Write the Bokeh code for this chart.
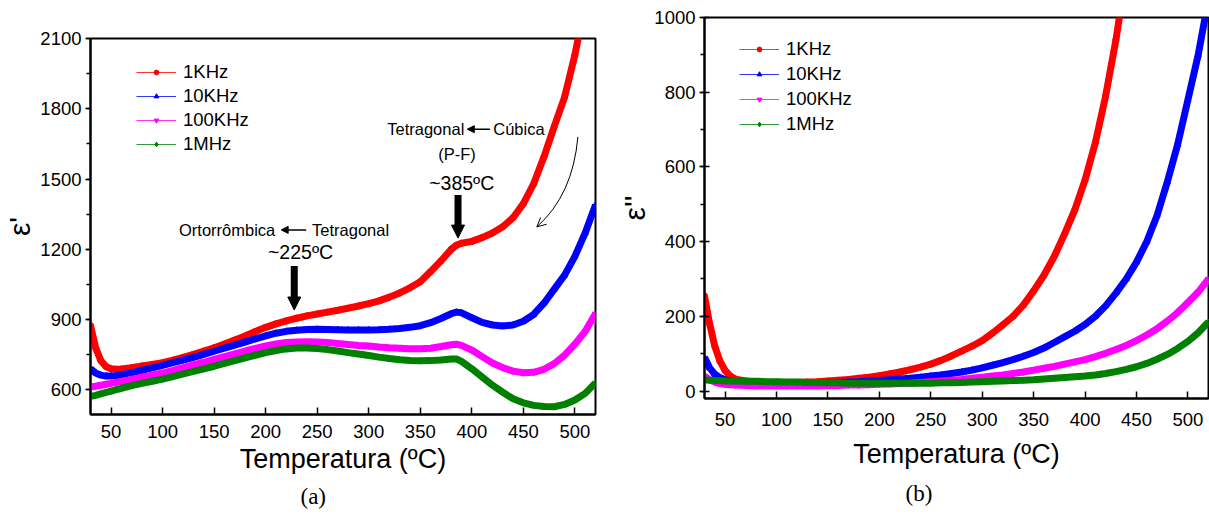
from bokeh.plotting import figure
from bokeh.layouts import row
from bokeh.models import (Range1d, SingleIntervalTicker, Label, Arrow, NormalHead,
                          OpenHead, Legend, LegendItem, Title)
from bokeh.embed import file_html
from bokeh.resources import INLINE

# ---------------- data: panel (a) real permittivity ----------------
T_a = [30, 35, 40, 45, 50, 55, 60, 70, 80, 90, 100, 110, 120, 130, 140, 150, 160, 170,
       180, 190, 200, 210, 220, 230, 240, 250, 260, 270, 280, 290, 300, 310, 320, 330,
       340, 350, 360, 370, 380, 385, 390, 400, 410, 420, 430, 440, 450, 460, 470, 480,
       490, 500, 510, 520]
eps1_1k = [875, 780, 725, 700, 690, 688, 689, 695, 702, 709, 716, 727, 739, 752, 766, 780,
           796, 813, 830, 849, 867, 882, 895, 906, 916, 924, 932, 940, 949, 958, 968, 980,
           996, 1014, 1036, 1062, 1105, 1150, 1200, 1217, 1226, 1234, 1250, 1270, 1296,
           1335, 1395, 1480, 1595, 1725, 1850, 2030, 2250, 2500]
eps1_10k = [690, 672, 663, 659, 659, 661, 665, 674, 684, 694, 705, 716, 727, 739, 752, 765,
            778, 791, 804, 818, 831, 842, 850, 855, 858, 859, 858, 857, 856, 856, 856, 857,
            859, 862, 867, 874, 887, 905, 925, 932, 929, 908, 888, 877, 873, 877, 893, 922,
            970, 1030, 1090, 1170, 1270, 1390]
eps1_100k = [612, 616, 620, 624, 628, 632, 636, 645, 654, 663, 672, 683, 695, 707, 718, 730,
             742, 754, 766, 777, 788, 796, 802, 805, 806, 805, 802, 798, 794, 790, 787, 783,
             780, 778, 776, 776, 778, 785, 793, 795, 790, 770, 742, 715, 695, 680, 673, 675,
             688, 712, 748, 795, 850, 925]
eps1_1m = [572, 577, 583, 589, 595, 601, 607, 618, 628, 637, 646, 657, 668, 679, 690, 701,
           713, 725, 737, 748, 759, 768, 775, 779, 779, 777, 772, 766, 759, 753, 747, 740,
           734, 729, 726, 724, 725, 728, 732, 732, 722, 690, 655, 620, 590, 562, 545, 534,
           529, 528, 538, 557, 585, 630]

# ---------------- data: panel (b) imaginary permittivity ----------------
T_b = [30, 35, 40, 45, 50, 55, 60, 70, 80, 90, 100, 110, 120, 130, 140, 150, 160, 170,
       180, 190, 200, 210, 220, 230, 240, 250, 260, 270, 280, 290, 300, 310, 320, 330,
       340, 350, 360, 370, 380, 390, 400, 410, 420, 430, 440, 450, 460, 470, 480, 490,
       500, 510, 520]
eps2_1k = [255, 180, 120, 80, 55, 40, 32, 27, 24, 23, 22, 22, 23, 24, 25, 27, 29, 31, 34,
           37, 41, 46, 51, 57, 64, 72, 82, 94, 107, 120, 135, 155, 177, 200, 230, 268, 310,
           360, 420, 485, 565, 665, 790, 940, 1120]
eps2_10k = [90, 62, 45, 36, 30, 27, 25, 23, 22, 21, 21, 21, 21, 21, 22, 22, 23, 24, 25, 27,
            28, 30, 32, 34, 37, 40, 43, 47, 51, 56, 62, 69, 76, 84, 93, 103, 115, 130, 145,
            160, 178, 200, 228, 262, 300, 345, 400, 470, 560, 660, 780, 900, 1050]
eps2_100k = [40, 30, 24, 20, 18, 17, 16, 15, 14, 14, 14, 14, 14, 14, 14, 15, 15, 16, 16, 17,
             18, 19, 20, 21, 23, 25, 27, 29, 31, 34, 37, 40, 43, 47, 51, 56, 61, 66, 72, 78,
             84, 92, 101, 111, 122, 135, 150, 167, 187, 210, 237, 265, 300]
eps2_1m = [30, 29, 28, 28, 27, 27, 27, 26, 26, 25, 25, 24, 24, 23, 23, 22, 22, 21, 21, 21,
           21, 21, 21, 21, 21, 21, 22, 22, 23, 24, 25, 26, 27, 28, 29, 30, 32, 34, 36, 38,
           40, 43, 47, 52, 58, 65, 74, 85, 98, 114, 133, 156, 185]

labels = ["1KHz", "10KHz", "100KHz", "1MHz"]
colors = ["#FF0000", "#0000FF", "#FF00FF", "#008000"]
markers = ["circle", "triangle", "inverted_triangle", "diamond"]

FONT = "Liberation Sans"


def style_axes(p, ytick_in, ytick_out, xstand, xlab_stand, ystand, ylab, ylab_stand):
    p.outline_line_color = "black"
    p.outline_line_width = 2
    p.outline_line_alpha = 1
    p.xgrid.visible = False
    p.ygrid.visible = False
    p.background_fill_color = "white"
    p.border_fill_color = "white"
    for ax in (p.xaxis[0], p.yaxis[0]):
        ax.axis_line_width = 2
        ax.axis_line_color = "black"
        ax.major_tick_line_width = 1.5
        ax.minor_tick_line_width = 1.5
        ax.major_tick_line_color = "black"
        ax.minor_tick_line_color = "black"
        ax.major_label_text_font = FONT
        ax.major_label_text_font_size = "18.5px"
        ax.major_label_text_color = "black"
        ax.axis_label_text_font = FONT
        ax.axis_label_text_font_style = "normal"
        ax.axis_label_text_color = "black"
    xa = p.xaxis[0]
    xa.major_tick_in = 7
    xa.major_tick_out = 0
    xa.minor_tick_line_color = None
    xa.major_label_standoff = xstand
    xa.axis_label = "Temperatura (ºC)"
    xa.axis_label_text_font_size = "27px"
    xa.axis_label_standoff = xlab_stand
    ya = p.yaxis[0]
    ya.major_tick_in = ytick_in
    ya.major_tick_out = ytick_out
    ya.minor_tick_in = 0
    ya.minor_tick_out = 4
    ya.major_label_standoff = ystand
    ya.axis_label = ylab
    ya.axis_label_text_font_size = "30px"
    ya.axis_label_standoff = ylab_stand


def add_series(p, series):
    items = []
    for (T, v), lab, c, m in zip(series, labels, colors, markers):
        p.line(T, v, line_color=c, line_width=7)
        thin = p.line(T, v, line_color=c, line_width=1, line_alpha=0.8)
        sc = p.scatter(T, v, marker=m, size=6, fill_color=c, line_color=c)
        items.append(LegendItem(label=lab, renderers=[thin, sc]))
    return items


def make_legend(items, loc, h):
    lg = Legend(items=items, location=loc)
    lg.glyph_width = 40
    lg.glyph_height = 12
    lg.label_height = h
    lg.spacing = 0
    lg.padding = 0
    lg.margin = 0
    lg.label_standoff = 7
    lg.border_line_alpha = 0
    lg.background_fill_alpha = 0
    lg.label_text_font = FONT
    lg.label_text_font_size = "18.5px"
    lg.label_text_color = "black"
    return lg


def caption(p, text, offset, standoff):
    p.add_layout(Title(text=text, align="left", offset=offset, standoff=standoff,
                       text_font="Liberation Serif", text_font_size="23px",
                       text_font_style="normal", text_color="black"), "below")


# ---------------- panel (a) ----------------
pa = figure(title=None, frame_width=505, frame_height=376, min_border_left=90,
            min_border_right=20, min_border_top=38, min_border_bottom=102,
            frame_align=False, toolbar_location=None, output_backend="svg",
            x_range=Range1d(30, 520), y_range=Range1d(495, 2100))
pa.xaxis.ticker = SingleIntervalTicker(interval=50, num_minor_ticks=0)
pa.yaxis.ticker = SingleIntervalTicker(interval=300, num_minor_ticks=2)
style_axes(pa, 0, 5, 10, 3, 4, "ε'", 1)
items_a = add_series(pa, [(T_a, eps1_1k), (T_a, eps1_10k), (T_a, eps1_100k), (T_a, eps1_1m)])
pa.add_layout(make_legend(items_a, (46, 258), 24))


def txt(p, x, y, t, size="16.5px", align="center"):
    p.add_layout(Label(x=x, y=y, text=t, text_font=FONT, text_font_size=size,
                       text_align=align, text_baseline="middle", text_color="black"))


txt(pa, 209.3, 1283, "Ortorrômbica", align="right")
txt(pa, 245, 1283, "Tetragonal", align="left")
pa.add_layout(Arrow(x_start=239.3, y_start=1283, x_end=215, y_end=1283, line_width=1.5,
                    end=NormalHead(size=7, fill_color="black", line_color="black")))
txt(pa, 233.8, 1190, "~225ºC", size="19.5px")
pa.add_layout(Arrow(x_start=227.7, y_start=1129, x_end=227.7, y_end=941, line_width=7,
                    end=NormalHead(size=13, fill_color="black", line_color="black")))
txt(pa, 392.7, 1713, "Tetragonal", align="right")
txt(pa, 420.8, 1713, "Cúbica", align="left")
pa.add_layout(Arrow(x_start=417.6, y_start=1713, x_end=395.6, y_end=1713, line_width=1.5,
                    end=NormalHead(size=7, fill_color="black", line_color="black")))
txt(pa, 385.6, 1606, "(P-F)")
txt(pa, 390.2, 1482, "~385ºC", size="19.5px")
pa.add_layout(Arrow(x_start=386.6, y_start=1432, x_end=386.6, y_end=1248, line_width=7,
                    end=NormalHead(size=13, fill_color="black", line_color="black")))
pa.quadratic(x0=502.9, y0=1680, x1=463.1, y1=1296, cx=498.0, cy=1432,
             line_color="black", line_width=1)
pa.add_layout(Arrow(x_start=498.0, y_start=1432, x_end=463.1, y_end=1296, line_alpha=0,
                    end=OpenHead(size=9, line_width=1, line_color="black")))
caption(pa, "(a)", 210, 10)

# ---------------- panel (b) ----------------
pb = figure(title=None, frame_width=504, frame_height=381, min_border_left=86,
            min_border_right=3, min_border_top=17, min_border_bottom=118,
            frame_align=False, toolbar_location=None, output_backend="svg",
            x_range=Range1d(30, 520), y_range=Range1d(-20, 1000))
pb.xaxis.ticker = SingleIntervalTicker(interval=50, num_minor_ticks=0)
pb.yaxis.ticker = SingleIntervalTicker(interval=200, num_minor_ticks=2)
style_axes(pb, 5, 5, 14, 10, 4, "ε''", 0)
items_b = add_series(pb, [(T_b[:len(eps2_1k)], eps2_1k), (T_b, eps2_10k),
                          (T_b, eps2_100k), (T_b, eps2_1m)])
pb.add_layout(make_legend(items_b, (35, 262), 25))
caption(pb, "(b)", 201, 15)

layout = row(pa, pb)
open("out.html", "w").write(file_html(layout, INLINE))
